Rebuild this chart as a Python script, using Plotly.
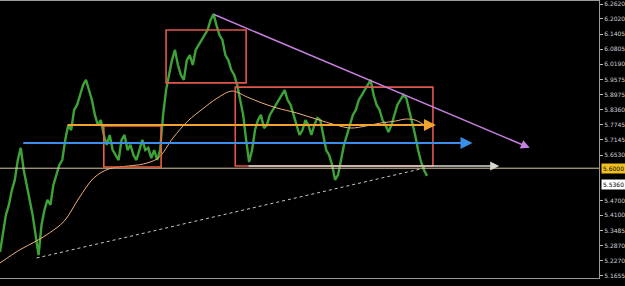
import plotly.graph_objects as go

# ---- data ----
bars = list(range(0, 433, 3))
close = [5.262, 5.331, 5.412, 5.452, 5.512, 5.553, 5.633, 5.682, 5.593, 5.532,
         5.472, 5.412, 5.331, 5.250, 5.371, 5.432, 5.472, 5.452, 5.532, 5.573,
         5.613, 5.633, 5.714, 5.774, 5.754, 5.835, 5.855, 5.895, 5.935, 5.956,
         5.915, 5.875, 5.815, 5.774, 5.794, 5.734, 5.694, 5.734, 5.673, 5.653,
         5.633, 5.714, 5.734, 5.673, 5.694, 5.653, 5.633, 5.673, 5.714, 5.673,
         5.682, 5.641, 5.673, 5.633, 5.673, 5.815, 5.915, 5.976, 6.036, 6.077,
         6.016, 5.976, 5.956, 6.036, 6.056, 6.016, 6.077, 6.097, 6.117, 6.137,
         6.157, 6.197, 6.222, 6.177, 6.137, 6.117, 6.056, 6.036, 5.996, 5.976,
         5.935, 5.875, 5.815, 5.714, 5.625, 5.673, 5.754, 5.794, 5.815, 5.762,
         5.774, 5.815, 5.835, 5.855, 5.875, 5.895, 5.915, 5.875, 5.855, 5.815,
         5.774, 5.734, 5.754, 5.794, 5.774, 5.734, 5.774, 5.802, 5.794, 5.734,
         5.673, 5.653, 5.613, 5.553, 5.573, 5.633, 5.694, 5.734, 5.774, 5.815,
         5.835, 5.875, 5.895, 5.915, 5.935, 5.956, 5.895, 5.855, 5.835, 5.794,
         5.774, 5.746, 5.774, 5.815, 5.855, 5.875, 5.895, 5.883, 5.835, 5.794,
         5.734, 5.673, 5.625, 5.593, 5.569]

ma_bars = [0, 20, 37, 50, 65, 80, 95, 110, 130, 145, 160, 175, 190, 205, 220,
           235, 250, 265, 280, 300, 320, 340, 355, 370, 385, 400, 410, 420, 432]
ma_vals = [5.218, 5.271, 5.307, 5.339, 5.387, 5.480, 5.561, 5.597, 5.609, 5.617,
           5.641, 5.722, 5.790, 5.839, 5.883, 5.911, 5.887, 5.863, 5.843, 5.823,
           5.798, 5.774, 5.762, 5.770, 5.782, 5.790, 5.798, 5.794, 5.766]

tick_vals = [6.2620, 6.2020, 6.1405, 6.0805, 6.0190, 5.9575, 5.8975, 5.8360,
             5.7745, 5.7145, 5.6530, 5.4700, 5.4100, 5.3485, 5.2870, 5.2270, 5.1655]
tick_text = ["%.4f" % v for v in tick_vals]

# analysis objects (bar, price)
boxes = [  # x0, x1, p_low, p_high, color
    (105, 163, 5.605, 5.770, "#e8643c"),
    (168, 249, 5.944, 6.157, "#e2574c"),
    (238, 438, 5.609, 5.927, "#e2574c"),
]
arrows = [  # tail bar, tail price, head bar, head price, color, width
    (250, 5.609, 505, 5.609, "#d8d8d0", 1.5),
    (22, 5.702, 478, 5.702, "#3b8fe8", 2),
    (67, 5.774, 441, 5.774, "#f2a32e", 2),
    (215, 6.222, 536, 5.682, "#c77fe0", 1.5),
]
trend = ([37, 430], [5.238, 5.601])
price_line = 5.600
price_label = "5.6000"
bid = 5.536
bid_label = "5.5360"

x_range = [0, 606]
y_range = [5.1574, 6.2741]

fig = go.Figure()

fig.add_trace(go.Scatter(x=trend[0], y=trend[1], mode="lines",
                         line=dict(color="#c8c8c8", width=1, dash="dot"),
                         hoverinfo="skip"))
fig.add_trace(go.Scatter(x=bars, y=close, mode="lines",
                         line=dict(color="#3ea336", width=2.4), hoverinfo="skip"))
fig.add_trace(go.Scatter(x=ma_bars, y=ma_vals, mode="lines", line_shape="spline",
                         line=dict(color="#f0b07c", width=1), hoverinfo="skip"))

shapes = []
shapes.append(dict(type="line", xref="x", yref="y", x0=x_range[0], x1=x_range[1],
                   y0=price_line, y1=price_line,
                   line=dict(color="#d9c9a0", width=1)))
for x0, x1, p0, p1, c in boxes:
    shapes.append(dict(type="rect", xref="x", yref="y", x0=x0, x1=x1, y0=p0, y1=p1,
                       line=dict(color=c, width=1.6), fillcolor="rgba(0,0,0,0)"))

annotations = []
for tx, ty, hx, hy, c, w in arrows:
    annotations.append(dict(x=hx, y=hy, ax=tx, ay=ty, xref="x", yref="y",
                            axref="x", ayref="y", text="", showarrow=True,
                            arrowhead=2, arrowsize=1.2, arrowwidth=w,
                            arrowcolor=c, standoff=0))
annotations.append(dict(x=1, xref="paper", y=price_line, yref="y", xanchor="left",
                        yanchor="middle", text=price_label, showarrow=False,
                        bgcolor="#f0c020", font=dict(size=6, color="#000000"),
                        borderpad=1, xshift=2))
annotations.append(dict(x=1, xref="paper", y=bid, yref="y", xanchor="left",
                        yanchor="middle", text=bid_label, showarrow=False,
                        bgcolor="#ffffff", font=dict(size=6, color="#000000"),
                        borderpad=1, xshift=2))

fig.update_layout(
    width=625, height=286,
    margin=dict(l=0, r=19, t=1, b=8),
    paper_bgcolor="#000000", plot_bgcolor="#000000",
    showlegend=False, shapes=shapes, annotations=annotations,
    font=dict(family="DejaVu Sans", size=6, color="#d8d8d8"),
)
fig.update_xaxes(range=x_range, showgrid=False, zeroline=False, showticklabels=False,
                 showline=True, linecolor="#9a9a9a", linewidth=1, mirror=True, ticks="")
fig.update_yaxes(range=y_range, side="right", showgrid=False, zeroline=False,
                 tickvals=tick_vals, ticktext=tick_text, ticks="outside", ticklen=3,
                 tickcolor="#bbbbbb", showline=True, linecolor="#9a9a9a", linewidth=1,
                 tickfont=dict(size=6, color="#d0d0d0"))

fig.write_html("out.html")
